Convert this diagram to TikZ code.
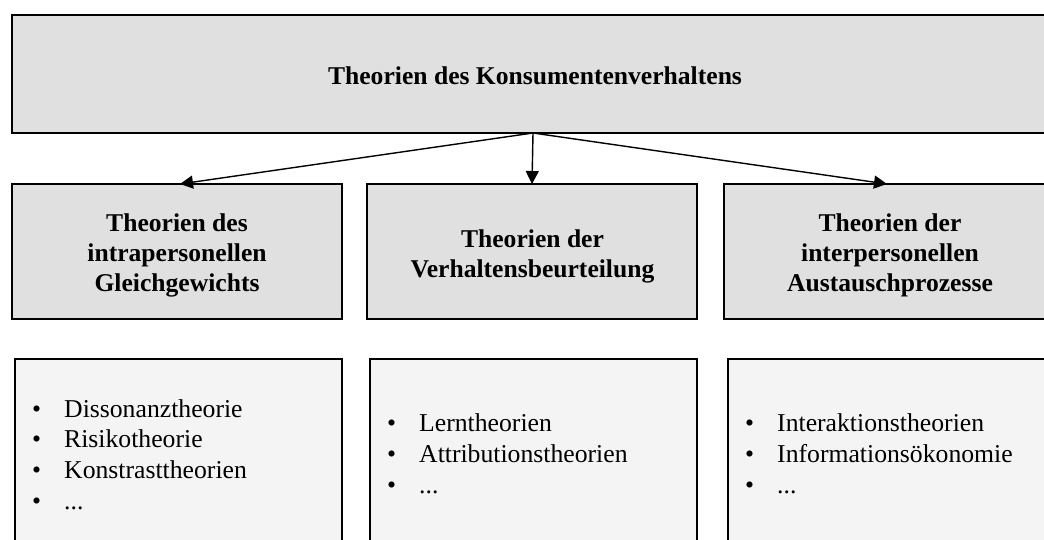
\documentclass[tikz,border=0pt]{standalone}
\usepackage{fontspec}
\setmainfont{Liberation Serif}
\usetikzlibrary{arrows.meta}
\definecolor{headfill}{HTML}{E0E0E0}
\definecolor{listfill}{HTML}{F4F4F4}
% strut that fixes the height of the first line of a block
\newcommand\fstrut{\rule{0pt}{20pt}}
\newcommand\bul{\makebox[32pt][l]{•}}
\begin{document}
\begin{tikzpicture}[x=1pt,y=-1pt,
  box/.style={draw=black,line width=1.6pt,rectangle,inner sep=0pt,outer sep=0pt},
  headbox/.style={box,fill=headfill,minimum width=330pt,minimum height=135pt},
  listbox/.style={box,fill=listfill,minimum width=327pt,minimum height=200pt},
  headtext/.style={font=\bfseries\fontsize{25.6}{30}\selectfont,align=center,inner sep=0pt,anchor=north},
  listtext/.style={font=\fontsize{25.7}{30.6}\selectfont,align=left,inner sep=0pt,anchor=north west},
  link/.style={line width=1.4pt,-{Triangle[length=13pt,width=13pt]}}]
\useasboundingbox (0,0) rectangle (1044,540);
\clip (0,0) rectangle (1044,540);

% top level
\node[box,fill=headfill,minimum width=1042pt,minimum height=118pt] (top) at (533,74) {};
\node[font=\bfseries\fontsize{25.6}{30}\selectfont,anchor=base,inner sep=0pt] (title) at (535,85) {Theorien des Konsumentenverhaltens};

% second level
\node[headbox] (lhead) at (177,251.5) {};
\node[headbox] (mhead) at (532,251.5) {};
\node[headbox] (rhead) at (889,251.5) {};
\node[headtext] (ltext) at (177,211) {\fstrut Theorien des\\intrapersonellen\\Gleichgewichts};
\node[headtext] (mtext) at (532.5,227.3) {\fstrut Theorien der\\Verhaltensbeurteilung};
\node[headtext] (rtext) at (890,211.5) {\fstrut Theorien der\\interpersonellen\\Austauschprozesse};

% lists
\node[listbox] (llist) at (178.5,459) {};
\node[listbox] (mlist) at (533.5,459) {};
\node[listbox] (rlist) at (891.5,459) {};
\node[listtext] (litems) at (32,397) {\fstrut\bul Dissonanztheorie\\\bul Risikotheorie\\\bul Konstrasttheorien\\\bul ...};
\node[listtext] (mitems) at (387,411.7) {\fstrut\bul Lerntheorien\\\bul Attributionstheorien\\\bul ...};
\node[listtext] (ritems) at (745,411.7) {\fstrut\bul Interaktionstheorien\\\bul Informationsökonomie\\\bul ...};

% connectors
\draw[link] (top.south) -- ([xshift=3pt]lhead.north);
\draw[link] (top.south) -- (mhead.north);
\draw[link] (top.south) -- ([xshift=-2pt]rhead.north);
\end{tikzpicture}
\end{document}
